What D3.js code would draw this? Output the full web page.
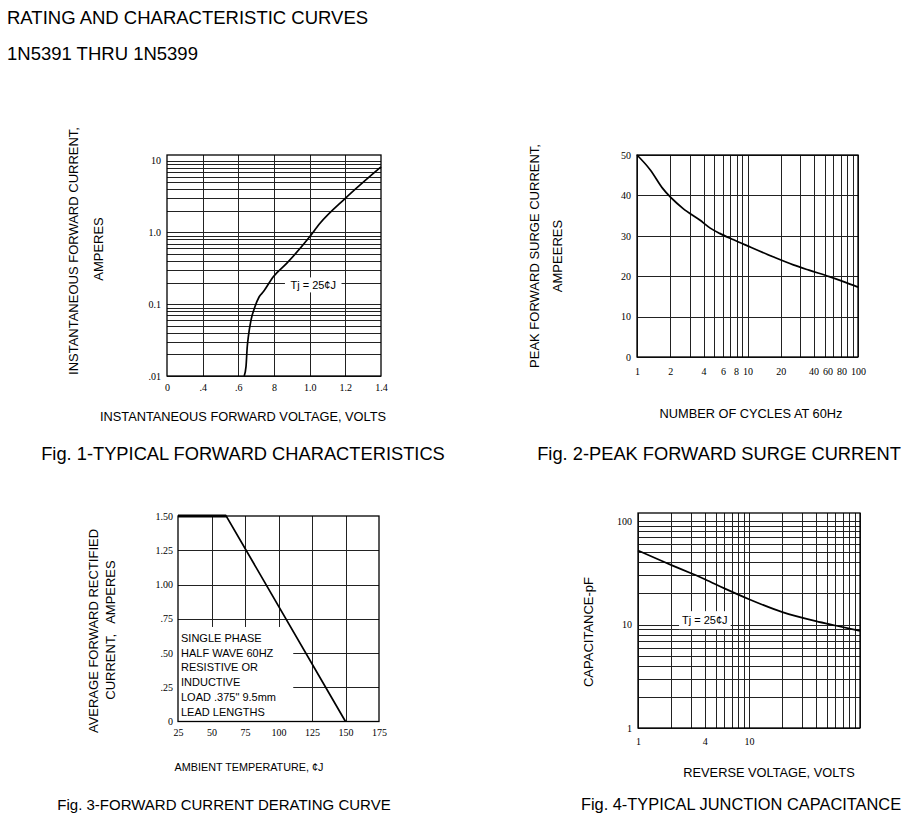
<!DOCTYPE html>
<html lang="en">
<head>
<meta charset="utf-8">
<title>1N5391 THRU 1N5399 - Rating and characteristic curves</title>
<script src="https://d3js.org/d3.v7.min.js"></script>
<style>
  body { margin: 0; background: #fff; }
  .tick text { font-family: "Liberation Serif", "Times New Roman", serif; font-size: 10px; fill: #000; }
  .grid line { stroke: #222; stroke-width: 1; shape-rendering: crispEdges; }
  .sans { font-family: "Liberation Sans", Arial, sans-serif; fill: #000; }
</style>
</head>
<body>
<div id="chart"></div>
<script>
// Fig. 1 - typical forward characteristics
const fwdVolts = [0.633, 0.643, 0.650, 0.656, 0.671, 0.693, 0.717, 0.740, 0.796, 0.871, 1.0, 1.058, 1.2, 1.4];
const fwdAmps = [0.01, 0.0135, 0.0256, 0.035, 0.060, 0.092, 0.127, 0.149, 0.242, 0.371, 0.87, 1.34, 2.99, 8.2];
const fwdVoltTicks = [0, 0.4, 0.6, 0.8, 1.0, 1.2, 1.4];
const fwdVoltLabels = ['0', '.4', '.6', '8', '1.0', '1.2', '1.4'];
const fwdAmpTicks = [0.01, 0.1, 1, 10];
const fwdAmpLabels = ['.01', '0.1', '1.0', '10'];

// Fig. 2 - peak forward surge current
const surgeCycles = [1, 1.32, 1.7, 2.6, 3.7, 4.6, 5.6, 7.5, 10, 17, 26, 36, 55, 75, 100];
const surgeAmps = [50, 46.3, 41.8, 36.8, 33.9, 31.9, 30.6, 29.0, 27.5, 24.8, 22.8, 21.5, 19.9, 18.6, 17.3];
const surgeCycleTicks = [1, 2, 4, 6, 8, 10, 20, 40, 60, 80, 100];
const surgeAmpTicks = [0, 10, 20, 30, 40, 50];

// Fig. 3 - forward current derating curve
const derateTemp = [25, 61, 150];
const derateAmps = [1.5, 1.5, 0];
const derateTempTicks = [25, 50, 75, 100, 125, 150, 175];
const derateAmpTicks = [0, 0.25, 0.5, 0.75, 1.0, 1.25, 1.5];
const derateAmpLabels = ['0', '.25', '.50', '.75', '1.00', '1.25', '1.50'];
const derateNote = ['SINGLE PHASE', 'HALF WAVE 60HZ', 'RESISTIVE OR', 'INDUCTIVE', 'LOAD .375" 9.5mm', 'LEAD LENGTHS'];

// Fig. 4 - typical junction capacitance
const capVolts = [1, 2, 3, 4, 6, 10, 20, 40, 60, 100];
const capPf = [52, 37.6, 31.4, 27.5, 22.4, 17.6, 13.2, 10.8, 9.8, 8.7];
const capVoltTicks = [1, 4, 10];
const capPfTicks = [1, 10, 100];

const svg = d3.select('#chart')
  .append('svg')
  .attr('width', 914)
  .attr('height', 831)
  .style('background-color', 'white');

const noAxisLine = s => s.select('.domain').remove();

// grid, tick labels and frame of one panel; returns a group for the marks
function drawFrame(o) {
  const b = o.box;
  const g = svg.append('g');

  g.append('g').attr('class', 'grid')
    .attr('transform', `translate(0,${b.bottom})`)
    .call(d3.axisBottom(o.x).tickValues(o.xGrid).tickSize(-(b.bottom - b.top)).tickFormat(''))
    .call(noAxisLine);
  g.append('g').attr('class', 'grid')
    .attr('transform', `translate(${b.left},0)`)
    .call(d3.axisLeft(o.y).tickValues(o.yGrid).tickSize(-(b.right - b.left)).tickFormat(''))
    .call(noAxisLine);

  g.append('g')
    .attr('class', 'xlabels')
    .attr('transform', `translate(0,${b.bottom})`)
    .call(d3.axisBottom(o.x).tickValues(o.xTicks).tickFormat((d, i) => o.xLabels[i]).tickSize(0).tickPadding(o.xPad))
    .call(noAxisLine);
  g.append('g')
    .attr('transform', `translate(${b.left},0)`)
    .call(d3.axisLeft(o.y).tickValues(o.yTicks).tickFormat((d, i) => o.yLabels[i]).tickSize(0).tickPadding(o.yPad))
    .call(noAxisLine);

  return g;
}

// push crowded x labels leftwards so that they keep a small gap
function spreadLabels(g, gap) {
  const texts = g.selectAll('.xlabels .tick').nodes();
  let limit = Infinity;
  for (let i = texts.length - 1; i >= 0; i--) {
    const t = d3.select(texts[i]).select('text');
    const bb = t.node().getBBox();
    const cx = +d3.select(texts[i]).attr('transform').match(/translate\(([-\d.]+)/)[1];
    const right = cx + bb.x + bb.width;
    const shift = Math.min(0, limit - right);
    t.attr('dx', shift);
    limit = cx + bb.x + shift - gap;
  }
}

function drawBorder(g, b) {
  g.append('rect')
    .attr('x', b.left).attr('y', b.top)
    .attr('width', b.right - b.left).attr('height', b.bottom - b.top)
    .attr('fill', 'none').attr('stroke', '#000').attr('stroke-width', 1.3);
}

function drawCurve(g, x, y, xs, ys, curve) {
  g.append('path')
    .datum(d3.zip(xs, ys))
    .attr('fill', 'none')
    .attr('stroke', '#000')
    .attr('stroke-width', 1.7)
    .attr('d', d3.line().x(d => x(d[0])).y(d => y(d[1])).curve(curve));
}

// text on a white patch that hides the grid behind it
function noteBox(g, cx, cy, txt, padX, padY) {
  const n = g.append('g');
  const t = n.append('text').attr('class', 'sans')
    .attr('x', cx).attr('y', cy).attr('dy', '0.35em')
    .attr('text-anchor', 'middle').style('font-size', '11px').text(txt);
  const bb = t.node().getBBox();
  n.insert('rect', 'text')
    .attr('x', bb.x - padX).attr('y', bb.y - padY)
    .attr('width', bb.width + 2 * padX).attr('height', bb.height + 2 * padY)
    .attr('fill', 'white');
}

function label(txt, x, y, size, anchor, rotate) {
  svg.append('text').attr('class', 'sans')
    .attr('transform', `translate(${x},${y})` + (rotate ? ' rotate(-90)' : ''))
    .attr('text-anchor', anchor)
    .style('font-size', size + 'px')
    .style('white-space', 'pre')
    .text(txt);
}

// ---------- Fig. 1 ----------
const box1 = { left: 167, right: 381, top: 155, bottom: 376 };
const x1 = d3.scaleLinear()
  .domain([0, 0.4, 1.4])
  .range([box1.left, box1.left + (box1.right - box1.left) / 6, box1.right]);
const y1 = d3.scaleLog().domain([0.01, 12]).range([box1.bottom, box1.top]);
const g1 = drawFrame({
  box: box1, x: x1, y: y1,
  xGrid: fwdVoltTicks.slice(1, -1), yGrid: y1.ticks(),
  xTicks: fwdVoltTicks, xLabels: fwdVoltLabels, xPad: 8,
  yTicks: fwdAmpTicks, yLabels: fwdAmpLabels, yPad: 6
});
noteBox(g1, x1(1.02), y1(0.185), 'Tj = 25\u00a2J', 5.5, 1.5);
drawCurve(g1, x1, y1, fwdVolts, fwdAmps, d3.curveMonotoneX);
drawBorder(g1, box1);

// ---------- Fig. 2 ----------
const box2 = { left: 637, right: 858, top: 155, bottom: 357 };
const x2 = d3.scaleLog().domain([1, 100]).range([box2.left, box2.right]);
const y2 = d3.scaleLinear().domain([0, 50]).range([box2.bottom, box2.top]);
const g2 = drawFrame({
  box: box2, x: x2, y: y2,
  xGrid: x2.ticks(), yGrid: surgeAmpTicks,
  xTicks: surgeCycleTicks, xLabels: surgeCycleTicks.map(String), xPad: 11,
  yTicks: surgeAmpTicks, yLabels: surgeAmpTicks.map(String), yPad: 6
});
spreadLabels(g2, 4);
drawCurve(g2, x2, y2, surgeCycles, surgeAmps, d3.curveMonotoneX);
drawBorder(g2, box2);

// ---------- Fig. 3 ----------
const box3 = { left: 178, right: 379, top: 516, bottom: 721.5 };
const x3 = d3.scaleLinear().domain([25, 175]).range([box3.left, box3.right]);
const y3 = d3.scaleLinear().domain([0, 1.5]).range([box3.bottom, box3.top]);
const g3 = drawFrame({
  box: box3, x: x3, y: y3,
  xGrid: derateTempTicks.slice(1, -1), yGrid: derateAmpTicks.slice(1, -1),
  xTicks: derateTempTicks, xLabels: derateTempTicks.map(String), xPad: 7.5,
  yTicks: derateAmpTicks, yLabels: derateAmpLabels, yPad: 5
});
g3.append('rect')
  .attr('x', x3(25)).attr('y', y3(0.69))
  .attr('width', x3(111) - x3(25)).attr('height', y3(0) - y3(0.69))
  .attr('fill', 'white');
g3.append('text').attr('class', 'sans')
  .style('font-size', '11px')
  .selectAll('tspan')
  .data(derateNote)
  .enter()
  .append('tspan')
  .attr('x', x3(25) + 3)
  .attr('y', (d, i) => 642 + i * 14.7)
  .text(d => d);
drawCurve(g3, x3, y3, derateTemp, derateAmps, d3.curveLinear);
g3.append('line')
  .attr('x1', x3(derateTemp[0])).attr('x2', x3(derateTemp[1]))
  .attr('y1', y3(derateAmps[0])).attr('y2', y3(derateAmps[1]))
  .attr('stroke', '#000').attr('stroke-width', 3);
drawBorder(g3, box3);

// ---------- Fig. 4 ----------
const box4 = { left: 638, right: 860, top: 513, bottom: 728 };
const x4 = d3.scaleLog().domain([1, 100]).range([box4.left, box4.right]);
const y4 = d3.scaleLog().domain([1, 120]).range([box4.bottom, box4.top]);
const g4 = drawFrame({
  box: box4, x: x4, y: y4,
  xGrid: x4.ticks(), yGrid: y4.ticks(),
  xTicks: capVoltTicks, xLabels: capVoltTicks.map(String), xPad: 10,
  yTicks: capPfTicks, yLabels: capPfTicks.map(String), yPad: 6
});
noteBox(g4, x4(4.0), y4(11), 'Tj = 25\u00a2J', 3, 3);
drawCurve(g4, x4, y4, capVolts, capPf, d3.curveMonotoneX);
drawBorder(g4, box4);

// ---------- texts ----------
label('RATING AND CHARACTERISTIC CURVES', 7, 24, 18.5, 'start');
label('1N5391 THRU 1N5399', 7, 60, 18.5, 'start');

label('INSTANTANEOUS FORWARD CURRENT,', 78, 251, 13, 'middle', true);
label('AMPERES', 103, 249, 13, 'middle', true);
label('INSTANTANEOUS FORWARD VOLTAGE, VOLTS', 243, 421, 12.8, 'middle');
label('Fig. 1-TYPICAL FORWARD CHARACTERISTICS', 243, 460, 18.3, 'middle');

label('PEAK FORWARD SURGE CURRENT,', 539, 256, 13, 'middle', true);
label('AMPEERES', 562, 256, 13, 'middle', true);
label('NUMBER OF CYCLES AT 60Hz', 751, 418, 12.8, 'middle');
label('Fig. 2-PEAK FORWARD SURGE CURRENT', 719, 460, 18.3, 'middle');

label('AVERAGE FORWARD RECTIFIED', 98, 631, 13, 'middle', true);
label('CURRENT,   AMPERES', 115, 630, 13, 'middle', true);
label('AMBIENT TEMPERATURE, \u00a2J', 249, 771, 10.8, 'middle');
label('Fig. 3-FORWARD CURRENT DERATING CURVE', 224, 810, 15, 'middle');

label('CAPACITANCE-pF', 593, 632, 13, 'middle', true);
label('REVERSE VOLTAGE, VOLTS', 769, 777, 12.8, 'middle');
label('Fig. 4-TYPICAL JUNCTION CAPACITANCE', 741, 810, 16.4, 'middle');
</script>
</body>
</html>
